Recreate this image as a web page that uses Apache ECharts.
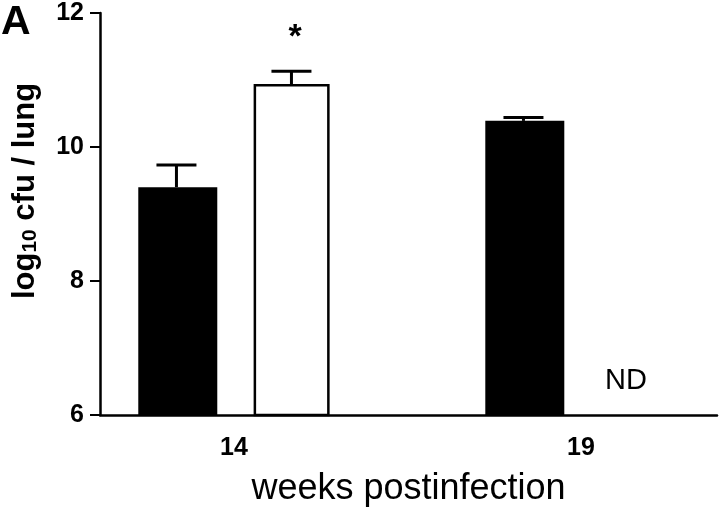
<!DOCTYPE html>
<html>
<head>
<meta charset="utf-8">
<script src="https://cdn.jsdelivr.net/npm/echarts@6/dist/echarts.min.js"></script>
<style>html,body{margin:0;padding:0;background:#fff}#c{width:720px;height:512px}</style>
</head>
<body>
<div id="c"></div>
<script>
// Data
const weeks = [14, 19];
const wtMean = [9.40, 10.39];     // filled bars
const wtUpper = [9.73, 10.44];    // upper error bar ends
const koMean = [10.94, null];     // open bars (ND at 19 weeks)
const koUpper = [11.13, null];
const yTicks = [6, 8, 10, 12];
const xTickLabels = [14, 19];

const FONT = '"Liberation Sans", Arial, Helvetica, sans-serif';
const BAR_W = 79;
const OFFSET = 57.5;

function errSeries(means, uppers, dx) {
  return {
    type: 'custom',
    data: weeks.map((w, i) => [w, means[i], uppers[i]]).filter(d => d[1] != null),
    renderItem: function (params, api) {
      const x = api.value(0), m = api.value(1), u = api.value(2);
      const p0 = api.coord([x, m]);
      const p1 = api.coord([x, u]);
      const cx = p0[0] + dx;
      const st = { stroke: '#000', lineWidth: 3 };
      return {
        type: 'group',
        children: [
          { type: 'line', shape: { x1: cx, y1: p0[1], x2: cx, y2: p1[1] }, style: st },
          { type: 'line', shape: { x1: cx - 20, y1: p1[1], x2: cx + 20, y2: p1[1] }, style: st }
        ]
      };
    },
    z: 1
  };
}

const chart = echarts.init(document.getElementById('c'), null, { renderer: 'canvas' });
chart.setOption({
  backgroundColor: '#fff',
  animation: false,
  grid: { left: 100, right: 3, top: 13, bottom: 90 },
  xAxis: {
    type: 'value',
    min: 12.07,
    max: 20.96,
    splitLine: { show: false },
    axisTick: { show: false },
    axisLine: { show: true, onZero: false, lineStyle: { color: '#000', width: 2.5 } },
    axisLabel: {
      customValues: xTickLabels,
      color: '#000', fontFamily: FONT, fontWeight: 'bold', fontSize: 25, margin: 21
    },
    name: 'weeks postinfection',
    nameLocation: 'middle',
    nameGap: 56,
    nameTextStyle: { color: '#000', fontFamily: FONT, fontSize: 36 }
  },
  yAxis: {
    type: 'value',
    min: yTicks[0],
    max: yTicks[yTicks.length - 1],
    interval: 2,
    splitLine: { show: false },
    axisLine: { show: true, lineStyle: { color: '#000', width: 2.5 } },
    axisTick: { show: true, length: 10, lineStyle: { color: '#000', width: 2 } },
    axisLabel: { color: '#000', fontFamily: FONT, fontWeight: 'bold', fontSize: 25, margin: 16 }
  },
  series: [
    {
      type: 'bar',
      name: 'filled',
      data: weeks.map((w, i) => [w, wtMean[i]]),
      barWidth: BAR_W,
      barGap: '46%',
      itemStyle: { color: '#000' },
      z: 2
    },
    {
      type: 'bar',
      name: 'open',
      data: weeks.map((w, i) => [w, koMean[i]]).filter(d => d[1] != null),
      barWidth: BAR_W - 3,
      barGap: '46%',
      itemStyle: { color: '#fff', borderColor: '#000', borderWidth: 2.5 },
      z: 2
    },
    errSeries(wtMean, wtUpper, -OFFSET),
    errSeries(koMean, koUpper, OFFSET)
  ],
  graphic: [
    { type: 'text', left: 1, top: 2, style: { text: 'A', font: 'bold 41px ' + FONT, fill: '#000' } },
    {
      type: 'text', x: 25, y: 191, rotation: Math.PI / 2,
      style: {
        text: 'log{sub|10} cfu / lung',
        font: 'bold 31px ' + FONT,
        fill: '#000',
        align: 'center',
        verticalAlign: 'middle',
        rich: {
          sub: { fontSize: 21, fontWeight: 'bold', fontFamily: FONT, fill: '#000', verticalAlign: 'bottom', lineHeight: 21, padding: [10, 0, 0, 0] }
        }
      }
    },
    { type: 'text', x: 295, y: 38, style: { text: '*', font: 'bold 34px ' + FONT, fill: '#000', align: 'center', verticalAlign: 'middle' } },
    { type: 'text', x: 626, y: 381, style: { text: 'ND', font: '29px ' + FONT, fill: '#000', align: 'center', verticalAlign: 'middle' } }
  ]
});
</script>
</body>
</html>
